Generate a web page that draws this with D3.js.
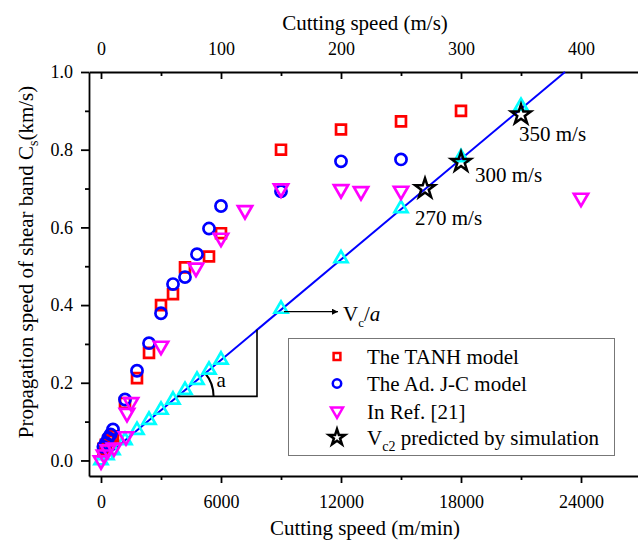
<!DOCTYPE html>
<html>
<head>
<meta charset="utf-8">
<script src="https://cdn.jsdelivr.net/npm/d3@7"></script>
<style>
  html, body { margin: 0; padding: 0; background: #fff; }
  svg { display: block; }
</style>
</head>
<body>
<svg id="chart" width="638" height="543"></svg>
<script>
// Cutting speed in m/min, propagation speed of the shear band in km/s

// The TANH model
const tanhSpeed = [120, 240, 360, 480, 600, 1200, 1800, 2400, 3000, 3600, 4200, 5400, 6000, 9000, 12000, 15000, 18000];
const tanhCs    = [0.030, 0.040, 0.050, 0.055, 0.062, 0.148, 0.212, 0.277, 0.400, 0.428, 0.497, 0.525, 0.585, 0.800, 0.852, 0.873, 0.900];

// The Ad. J-C model
const adjcSpeed = [120, 240, 360, 480, 600, 1200, 1800, 2400, 3000, 3600, 4200, 4800, 5400, 6000, 9000, 12000, 15000];
const adjcCs    = [0.035, 0.045, 0.058, 0.067, 0.080, 0.157, 0.231, 0.302, 0.379, 0.454, 0.472, 0.531, 0.597, 0.655, 0.693, 0.770, 0.775];

// Values from Ref. [21]
const refSpeed = [0, 150, 350, 650, 1250, 1300, 1500, 3000, 4750, 6000, 7200, 9000, 12000, 13000, 15000, 24000];
const refCs    = [0.000, 0.015, 0.028, 0.033, 0.062, 0.122, 0.150, 0.295, 0.496, 0.573, 0.644, 0.700, 0.698, 0.693, 0.694, 0.676];

// Critical line V_c / a and its sample points
const lineSpeed = [0, 300, 600, 1200, 1800, 2400, 3000, 3600, 4200, 4800, 5400, 6000, 9000, 12000, 15000, 18000, 21000];
const lineCs    = [0.000, 0.013, 0.026, 0.052, 0.078, 0.104, 0.130, 0.156, 0.181, 0.207, 0.233, 0.259, 0.390, 0.520, 0.649, 0.780, 0.912];
const fitSpeed  = [0, 23200];
const fitCs     = [0.0, 1.0];

// V_c2 predicted by simulation (cutting speed in m/s)
const vc2Speed = [270, 300, 350];
const vc2Cs    = [0.700, 0.768, 0.890];

// Axis ticks
const bottomTicks = [0, 6000, 12000, 18000, 24000];
const bottomMinor = [3000, 9000, 15000, 21000];
const topTicks    = [0, 100, 200, 300, 400];
const topMinor    = [50, 150, 250, 350];
const leftTicks   = [0.0, 0.2, 0.4, 0.6, 0.8, 1.0];
const leftMinor   = [0.1, 0.3, 0.5, 0.7, 0.9];

const legendLabels = ["The TANH model", "The Ad. J-C model", "In Ref. [21]", "predicted by simulation"];

const FONT = "'Liberation Serif', 'Times New Roman', Times, serif";
const svg = d3.select("#chart").attr("font-family", FONT);

const x    = d3.scaleLinear().domain([-600, 27000]).range([89, 641]);
const xTop = d3.scaleLinear().domain([-10, 450]).range([89, 641]);
const y    = d3.scaleLinear().domain([-0.04, 1.0]).range([476, 72]);

function styleAxis(g, fs) {
  g.attr("font-family", FONT).attr("font-size", fs);
  g.select(".domain").attr("stroke", "#000").attr("stroke-width", 1.8);
  g.selectAll(".tick line").attr("stroke", "#000").attr("stroke-width", 1.8);
  g.selectAll(".tick text").attr("fill", "#000");
}

// Bottom axis
svg.append("g").attr("transform", "translate(0,476)")
  .call(d3.axisBottom(x).tickValues(bottomMinor).tickFormat("").tickSize(4).tickSizeOuter(0))
  .call(g => { styleAxis(g, 18); g.select(".domain").remove(); });
svg.append("g").attr("transform", "translate(0,476)")
  .call(d3.axisBottom(x).tickValues(bottomTicks).tickFormat(d3.format("d")).tickSize(7).tickSizeOuter(0).tickPadding(12))
  .call(g => styleAxis(g, 18));

// Top axis, ticks pointing inward
svg.append("g").attr("transform", "translate(0,72)")
  .call(d3.axisTop(xTop).tickValues(topMinor).tickFormat("").tickSize(-4).tickSizeOuter(0))
  .call(g => { styleAxis(g, 18); g.select(".domain").remove(); });
svg.append("g").attr("transform", "translate(0,72)")
  .call(d3.axisTop(xTop).tickValues(topTicks).tickFormat(d3.format("d")).tickSizeInner(-7).tickSizeOuter(0).tickPadding(17))
  .call(g => styleAxis(g, 18));

// Left axis
svg.append("g").attr("transform", "translate(89,0)")
  .call(d3.axisLeft(y).tickValues(leftMinor).tickFormat("").tickSize(4).tickSizeOuter(0))
  .call(g => { styleAxis(g, 18); g.select(".domain").remove(); });
svg.append("g").attr("transform", "translate(89,0)")
  .call(d3.axisLeft(y).tickValues(leftTicks).tickFormat(d3.format(".1f")).tickSize(8).tickSizeOuter(0).tickPadding(8))
  .call(g => styleAxis(g, 18));

// Axis titles
svg.append("text").attr("x", 365).attr("y", 30).attr("text-anchor", "middle")
  .attr("font-size", 21).text("Cutting speed (m/s)");
svg.append("text").attr("x", 365).attr("y", 535).attr("text-anchor", "middle")
  .attr("font-size", 21).text("Cutting speed (m/min)");
const yTitle = svg.append("text").attr("text-anchor", "middle").attr("font-size", 21)
  .attr("transform", "translate(33,262) rotate(-90)");
yTitle.append("tspan").text("Propagation speed of shear band C");
yTitle.append("tspan").attr("font-size", 14).attr("dy", 5).text("s");
yTitle.append("tspan").attr("dy", -5).text("(km/s)");

// Plot layer
const plot = svg.append("g");

// Critical line
const lineGen = d3.line().x(d => x(d[0])).y(d => y(d[1]));
plot.append("path").datum(d3.zip(fitSpeed, fitCs)).attr("d", lineGen)
  .attr("fill", "none").attr("stroke", "#0000ff").attr("stroke-width", 2);

// Angle construction under the line
const slope = fitCs[1] / fitSpeed[1];
const legY = 0.165, legX0 = legY / slope, legX1 = 7800;
plot.append("path")
  .attr("d", `M${x(legX0)},${y(legY)}H${x(legX1)}V${y(legX1 * slope)}`)
  .attr("fill", "none").attr("stroke", "#000").attr("stroke-width", 1.6);
const ang = Math.atan2(y(0) - y(slope * 1000), x(1000) - x(0));
const r = 36, cx = x(legX0), cy = y(legY);
plot.append("path")
  .attr("d", `M${cx + r},${cy}A${r},${r} 0 0 0 ${cx + r * Math.cos(ang)},${cy - r * Math.sin(ang)}`)
  .attr("fill", "none").attr("stroke", "#000").attr("stroke-width", 2);
plot.append("text").attr("x", cx + 39).attr("y", cy - 9).attr("font-size", 21).text("a");

function drawMarkers(xs, ys, type, size, color, rot, sw) {
  const sym = d3.symbol().type(type).size(size);
  plot.append("g").selectAll("path").data(d3.zip(xs, ys)).join("path")
    .attr("d", sym)
    .attr("transform", d => `translate(${x(d[0])},${y(d[1])}) rotate(${rot})`)
    .attr("fill", "none").attr("stroke", color).attr("stroke-width", sw);
}

drawMarkers(lineSpeed, lineCs, d3.symbolTriangle, 74, "#00ffff", 0, 2.7);
drawMarkers(tanhSpeed, tanhCs, d3.symbolSquare, 98, "#ff0000", 0, 2.7);
drawMarkers(adjcSpeed, adjcCs, d3.symbolCircle, 98, "#0000ff", 0, 2.7);
drawMarkers(refSpeed, refCs, d3.symbolTriangle, 88, "#ff00ff", 180, 2.7);
drawMarkers(vc2Speed.map(v => v * 60), vc2Cs, d3.symbolStar, 120, "#000", 0, 2.5);

// Speed labels next to the simulated points
const vc2Offsets = [[-10, 36], [14, 20], [-2, 26]];
vc2Speed.forEach((v, i) => {
  plot.append("text")
    .attr("x", x(v * 60) + vc2Offsets[i][0]).attr("y", y(vc2Cs[i]) + vc2Offsets[i][1])
    .attr("font-size", 21).text(`${v} m/s`);
});

// V_c / a arrow
svg.append("defs").append("marker").attr("id", "arrowHead")
  .attr("viewBox", "0 0 10 10").attr("refX", 10).attr("refY", 5)
  .attr("markerWidth", 10).attr("markerHeight", 6).attr("markerUnits", "userSpaceOnUse")
  .attr("orient", "auto")
  .append("path").attr("d", "M0,0L10,5L0,10Z").attr("fill", "#000");
plot.append("line")
  .attr("x1", x(9000) + 3).attr("y1", y(0.383)).attr("x2", x(11850)).attr("y2", y(0.383))
  .attr("stroke", "#000").attr("stroke-width", 1.2).attr("marker-end", "url(#arrowHead)");
const vcLabel = plot.append("text").attr("x", x(11850) + 5).attr("y", y(0.383) + 9).attr("font-size", 21);
vcLabel.append("tspan").text("V");
vcLabel.append("tspan").attr("font-size", 13).attr("dy", 6).text("c");
vcLabel.append("tspan").attr("dy", -6).text("/");
vcLabel.append("tspan").attr("font-style", "italic").text("a");

// Legend
const legend = svg.append("g");
legend.append("rect").attr("x", 288.5).attr("y", 338.5).attr("width", 326).attr("height", 117)
  .attr("fill", "#fff").attr("stroke", "#777").attr("stroke-width", 1);
const legendItems = [
  { type: d3.symbolSquare, size: 46, color: "#ff0000", rot: 0 },
  { type: d3.symbolCircle, size: 56, color: "#0000ff", rot: 0 },
  { type: d3.symbolTriangle, size: 62, color: "#ff00ff", rot: 180 },
  { type: d3.symbolStar, size: 80, color: "#000", rot: 0 }
];
const rowY = [356.5, 383.5, 411, 437.5];
legendItems.forEach((it, i) => {
  legend.append("path").attr("d", d3.symbol().type(it.type).size(it.size))
    .attr("transform", `translate(337,${rowY[i]}) rotate(${it.rot})`)
    .attr("fill", "none").attr("stroke", it.color).attr("stroke-width", 2.5);
  const t = legend.append("text").attr("x", 367).attr("y", rowY[i] + 7.5).attr("font-size", 21);
  if (i === 3) {
    t.append("tspan").text("V");
    t.append("tspan").attr("font-size", 14).attr("dy", 6).text("c2");
    t.append("tspan").attr("dy", -6).text(" " + legendLabels[i]);
  } else {
    t.text(legendLabels[i]);
  }
});
</script>
</body>
</html>
